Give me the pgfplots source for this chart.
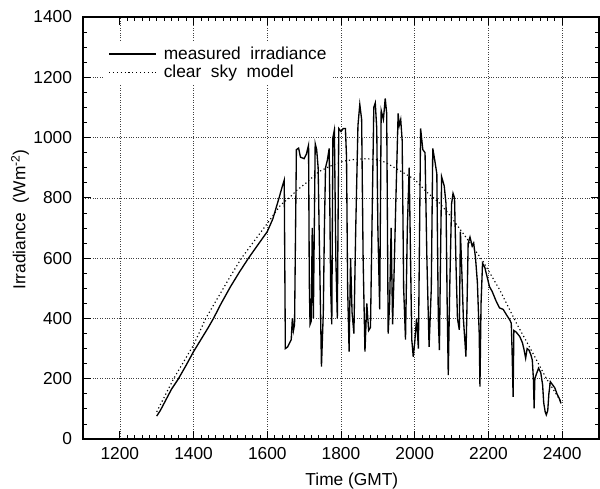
\documentclass[border=0pt]{standalone}
\usepackage{fontspec}
\setmainfont{Liberation Sans}
\usepackage{pgfplots}
\pgfplotsset{compat=1.18}
\begin{document}
\begin{tikzpicture}
\begin{axis}[
  scale only axis,
  width=387pt, height=316.5pt,
  xmin=1100, xmax=2500, ymin=0, ymax=1400,
  xtick={1200,1400,...,2400},
  ytick={0,200,...,1400},
  minor x tick num=9,
  minor y tick num=3,
  tick align=inside,
  ticks=both,
  xtick pos=both, ytick pos=both,
  major tick length=6pt, minor tick length=3pt,
  tick style={black, line width=0.6pt},
  axis line style={line width=0.9pt},
  grid=major,
  major grid style={black!75, line width=0.5pt, dash pattern=on 0.6pt off 1.2pt},
  /pgf/number format/assume math mode=true,
  /pgf/number format/1000 sep={},
  tick label style={font=\fontsize{13}{15}\selectfont},
  xticklabel style={yshift=-2.4pt},
  yticklabel style={xshift=-4.7pt},
  label style={font=\fontsize{13}{15}\selectfont},
  xlabel={Time (GMT)},
  ylabel={Irradiance\ \ (Wm\textsuperscript{-2})},
  xlabel style={at={(axis description cs:0.521,-0.111)}, anchor=base},
  ylabel style={at={(axis description cs:-0.122,0.52)}, anchor=center},
  legend style={draw=none, fill=white, at={(0.041,0.943)}, anchor=north west,
    font=\fontsize{13}{15}\selectfont, row sep=-1pt},
  legend cell align=left,
  legend image code/.code={\draw[#1] (0pt,0pt) -- (35pt,0pt); \path (38.5pt,0pt);},
]
\addplot[black, line width=1pt] coordinates {
(1300,76) (1310,95) (1325,130) (1340,165) (1358,198) (1380,245) (1400,290)
(1420,330) (1440,370) (1454,400) (1475,450) (1500,505) (1525,555) (1549,600)
(1575,645) (1600,688) (1615,730) (1632,800) (1640,835) (1646,859) (1649,300)
(1655,305) (1665,330) (1668,400) (1671,360) (1674,380) (1679,960) (1685,965)
(1690,935) (1700,930) (1706,945) (1712,975) (1714,520) (1716,380) (1719,390)
(1722,700) (1725,400) (1730,980) (1734,960) (1738,900) (1742,600) (1747,240)
(1752,420) (1755,700) (1758,900) (1763,925) (1768,964) (1772,500) (1775,380)
(1778,1000) (1782,1025) (1786,600) (1790,400) (1794,1030) (1800,1020)
(1806,1030) (1812,1030) (1815,935) (1818,500) (1822,290) (1826,600) (1830,420)
(1835,350) (1840,700) (1846,1040) (1851,1110) (1856,1060) (1860,600) (1865,290)
(1870,450) (1875,360) (1880,370) (1884,700) (1889,1100) (1893,1115) (1897,1030)
(1900,700) (1905,430) (1909,1090) (1915,1060) (1920,1130) (1924,1080) (1928,350)
(1932,450) (1936,700) (1940,380) (1944,550) (1948,750) (1955,1080) (1958,1040)
(1962,1060) (1966,990) (1970,500) (1975,330) (1980,700) (1985,900) (1992,330)
(1996,273) (2000,320) (2005,400) (2010,300) (2016,1030) (2022,960) (2028,950)
(2033,600) (2039,306) (2045,500) (2049,964) (2055,920) (2060,880) (2064,400)
(2067,295) (2070,600) (2073,870) (2080,840) (2085,780) (2088,450) (2091,212)
(2095,500) (2100,780) (2104,815) (2108,800) (2112,580) (2116,400) (2121,362)
(2124,688) (2128,550) (2132,400) (2139,273) (2142,450) (2145,649) (2150,670)
(2156,640) (2160,650) (2165,600) (2170,520) (2175,350) (2177,174) (2180,450)
(2184,583) (2190,570) (2196,540) (2200,520) (2203,505) (2210,490) (2220,460)
(2230,435) (2240,430) (2250,410) (2258,395) (2262,384) (2264,300) (2267,140)
(2269,360) (2275,355) (2285,340) (2292,320) (2296,300) (2301,268) (2305,300)
(2310,295) (2315,280) (2319,262) (2322,200) (2324,102) (2326,200) (2330,215)
(2336,235) (2342,220) (2347,180) (2350,120) (2354,90) (2357,80) (2361,95)
(2364,150) (2368,190) (2374,180) (2380,170) (2386,150) (2392,135) (2397,118)
};
\addlegendentry{measured\ \ irradiance}
\addplot[black, line width=0.85pt, dash pattern=on 0.9pt off 2pt] coordinates {
(1300,90) (1345,198) (1400,312) (1433,400) (1500,540) (1530,600) (1600,715)
(1636,776) (1663,804) (1681,826) (1704,848) (1740,887) (1770,905) (1807,922)
(1840,928) (1870,930) (1900,926) (1920,918) (1960,890) (2000,861) (2032,820)
(2068,782) (2095,743) (2118,704) (2141,666) (2186,588) (2231,494) (2276,384)
(2316,295) (2357,201) (2397,124)
};
\addlegendentry{clear\ \ sky\ \ model}
\end{axis}
\pgfresetboundingbox
\path[use as bounding box] ([shift={(-62.25pt,-37.5pt)}]current axis.south west) rectangle ([shift={(0.75pt,12.75pt)}]current axis.north east);
\end{tikzpicture}
\end{document}
